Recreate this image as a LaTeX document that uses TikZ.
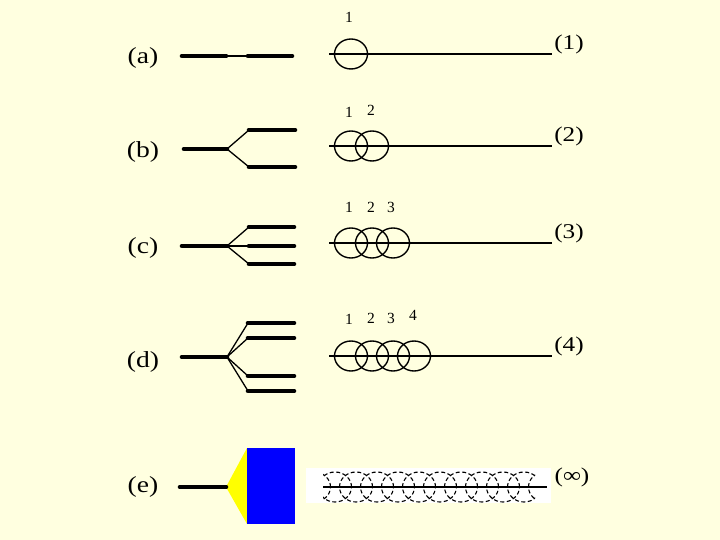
\documentclass[tikz,border=0pt]{standalone}
\usepackage{fontspec}
\setmainfont{Liberation Serif}
\definecolor{bg}{RGB}{255,255,224}
\definecolor{eblue}{RGB}{0,0,255}
\definecolor{eyellow}{RGB}{255,255,0}
\newcommand{\widetxt}[1]{\scalebox{1.2}[1]{#1}}
\begin{document}
\begin{tikzpicture}[x=1pt,y=-1pt,
  bar/.style={line width=4.6pt,line cap=round},
  twig/.style={line width=1.3pt},
  axis/.style={line width=1.1pt},
  ring/.style={draw,line width=1.4pt},
  big/.style={inner sep=0pt,font=\fontsize{23}{26}\selectfont},
  rlab/.style={inner sep=0pt,font=\fontsize{21}{24}\selectfont},
  small/.style={inner sep=0pt,font=\fontsize{15.5}{18}\selectfont}]
\fill[bg] (0,0) rectangle (720,540);
\useasboundingbox (0,0) rectangle (720,540);

% ---------- left labels
\node[big] (la) at (143,58) {\widetxt{(a)}};
\node[big] (lb) at (143,152) {\widetxt{(b)}};
\node[big] (lc) at (143,248) {\widetxt{(c)}};
\node[big] (ld) at (143,362) {\widetxt{(d)}};
\node[big] (le) at (143,487) {\widetxt{(e)}};

% ---------- (a)
\coordinate (a0) at (182,56); \coordinate (a1) at (226,56);
\coordinate (a2) at (248,56); \coordinate (a3) at (292,56);
\draw[bar] (a0) -- (a1); \draw[twig] (a1) -- (a2); \draw[bar] (a2) -- (a3);

% ---------- (b)
\coordinate (b0) at (184,149); \coordinate (b1) at (227,149);
\draw[bar] (b0) -- (b1);
\foreach \y [count=\k] in {130,167}{
  \coordinate (bs\k) at (249,\y); \coordinate (be\k) at (295,\y);
  \draw[twig] (b1) -- (bs\k); \draw[bar] (bs\k) -- (be\k);}

% ---------- (c)
\coordinate (c0) at (182,246); \coordinate (c1) at (227,246);
\draw[bar] (c0) -- (c1);
\foreach \y [count=\k] in {227,246,264}{
  \coordinate (cs\k) at (249,\y); \coordinate (ce\k) at (294,\y);
  \draw[twig] (c1) -- (cs\k); \draw[bar] (cs\k) -- (ce\k);}

% ---------- (d)
\coordinate (d0) at (182,357); \coordinate (d1) at (227,357);
\draw[bar] (d0) -- (d1);
\foreach \y [count=\k] in {323,338,376,391}{
  \coordinate (ds\k) at (248,\y); \coordinate (de\k) at (294,\y);
  \draw[twig] (d1) -- (ds\k); \draw[bar] (ds\k) -- (de\k);}

% ---------- (e)
\coordinate (e0) at (180,487); \coordinate (e1) at (226,487);
\fill[eyellow] (247,448) -- (e1) -- (247,524) -- cycle;
\fill[eblue] (247,448) rectangle (295,524);
\draw[bar] (e0) -- (e1);

% ---------- right side rows
\foreach \yl/\n/\lab in {54/1/(1),146/2/(2),243/3/(3),356/4/(4)}{
  \coordinate (s\n) at (329,\yl); \coordinate (t\n) at (552,\yl);
  \draw[axis] (s\n) -- (t\n);
  \node[rlab] (r\n) at (569,\yl-10) {\widetxt{\lab}};
  \foreach \i in {1,...,\n}{
    \draw[ring] (330+21*\i,\yl) ellipse [x radius=16.5pt, y radius=15pt];}
}
% numbers
\node[small] (n11) at (349,17) {1};
\node[small] (n21) at (349,112) {1};
\node[small] (n22) at (371,110) {2};
\node[small] (n31) at (349,207) {1};
\node[small] (n32) at (371,207) {2};
\node[small] (n33) at (391,207) {3};
\node[small] (n41) at (349,319) {1};
\node[small] (n42) at (371,318) {2};
\node[small] (n43) at (391,318) {3};
\node[small] (n44) at (413,315) {4};

% ---------- infinity row
\fill[white] (306,468) rectangle (551,503);
\begin{scope}
  \clip (323,465) rectangle (535,508);
  \foreach \i in {-1,...,10}{
    \draw[ring,line width=1.1pt,dash pattern=on 4pt off 2.5pt] (335+21*\i,487) ellipse [x radius=16.5pt, y radius=15pt];}
\end{scope}
\coordinate (s5) at (323,487); \coordinate (t5) at (547,487);
\draw[axis] (s5) -- (t5);
\node[rlab] (r5) at (572,477) {\widetxt{(∞)}};
\end{tikzpicture}
\end{document}
